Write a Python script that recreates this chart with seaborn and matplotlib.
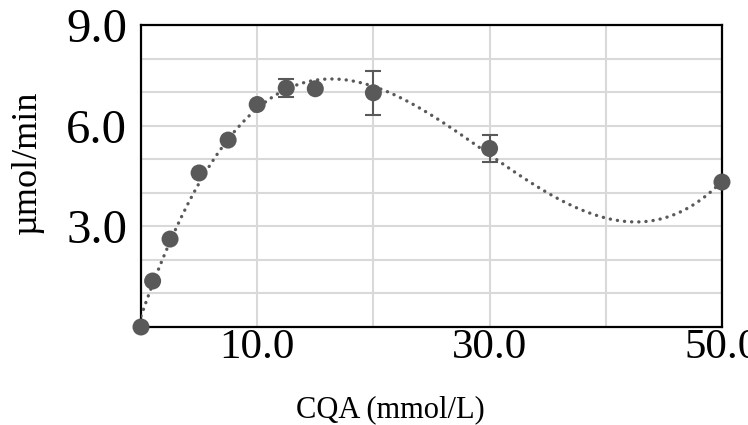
import numpy as np
import pandas as pd
import matplotlib
matplotlib.use("Agg")
import matplotlib.pyplot as plt
import seaborn as sns

# Reaction rate versus CQA concentration
cqa = [0, 1, 2.5, 5, 7.5, 10, 12.5, 15, 20, 30, 50]
rate = [0.0, 1.37, 2.62, 4.59, 5.57, 6.63, 7.12, 7.10, 6.98, 5.32, 4.32]
# standard deviations (0 where no bar is drawn)
rate_sd = [0, 0, 0, 0, 0, 0, 0.26, 0, 0.66, 0.40, 0]

x_ticks = [10, 30, 50]
x_tick_labels = ["10.0", "30.0", "50.0"]
y_ticks = [3, 6, 9]
y_tick_labels = ["3.0", "6.0", "9.0"]

df = pd.DataFrame({"cqa": cqa, "rate": rate, "sd": rate_sd})

sns.set_theme(style="white")
plt.rcParams["font.family"] = ["Liberation Serif", "DejaVu Serif"]

grey = "#595959"
fig = plt.figure(figsize=(7.48, 4.25), dpi=100)
ax = fig.add_axes([0.1885, 0.2306, 0.9652 - 0.1885, 0.9412 - 0.2306])

# cubic trend line through the measurements
sns.regplot(data=df, x="cqa", y="rate", order=3, ci=None, scatter=False, ax=ax,
            line_kws=dict(color=grey, lw=2.4, linestyle=(0, (0.05, 2.1)),
                          dash_capstyle="round", zorder=3))

# error bars
bars = df[df["sd"] > 0]
ax.errorbar(bars["cqa"], bars["rate"], yerr=bars["sd"], fmt="none",
            ecolor=grey, elinewidth=1.5, capsize=6, capthick=1.5, zorder=4)

sns.scatterplot(data=df, x="cqa", y="rate", ax=ax, color=grey, s=150,
                edgecolor="none", zorder=5, clip_on=False)

ax.set_xlim(0, 50)
ax.set_ylim(0, 9)
ax.set_xticks(np.arange(10, 50, 10), minor=True)
ax.set_yticks(np.arange(1, 9, 1), minor=True)
ax.set_xticks(x_ticks)
ax.set_xticklabels(x_tick_labels)
ax.set_yticks(y_ticks)
ax.set_yticklabels(y_tick_labels)
ax.grid(True, which="both", color="#d9d9d9", lw=1.5)
ax.set_axisbelow(True)
ax.tick_params(which="both", length=0, colors="black")
ax.tick_params(axis="y", labelsize=35, pad=10)
ax.tick_params(axis="x", labelsize=31, pad=1)

for sp in ax.spines.values():
    sp.set_visible(True)
    sp.set_color("black")
    sp.set_linewidth(1.6)
    sp.set_zorder(2.5)

ax.set_xlabel("CQA (mmol/L)", fontsize=22, color="black", va="center")
ax.xaxis.set_label_coords(0.43, -0.275)
ax.set_ylabel("µmol/min", fontsize=26, color="black", va="center")
ax.yaxis.set_label_coords(-0.196, 0.545)

fig.savefig("out.png", dpi=100)
